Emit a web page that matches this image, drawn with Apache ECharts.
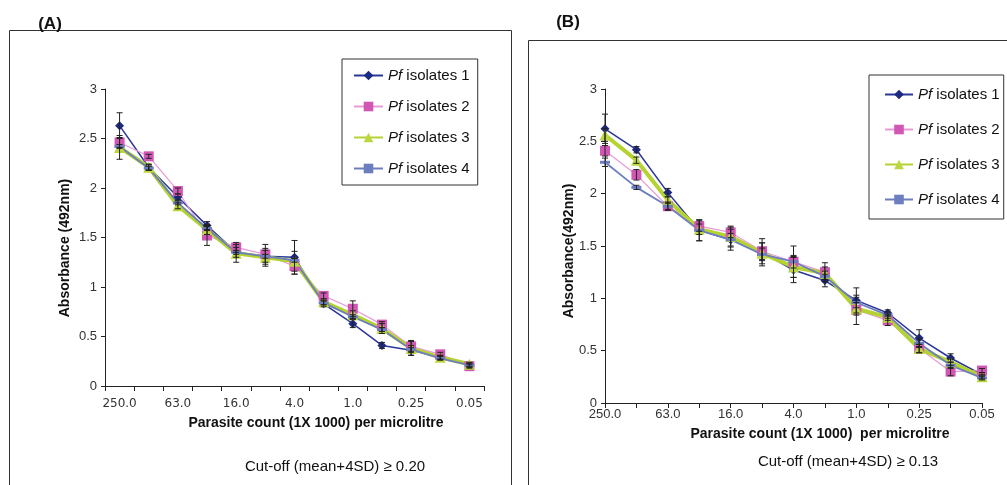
<!DOCTYPE html>
<html><head><meta charset="utf-8">
<script src="https://cdn.jsdelivr.net/npm/echarts@6/dist/echarts.min.js"></script>
<style>html,body{margin:0;padding:0;background:#fff}#c{width:1007px;height:485px}</style>
</head><body><div id="c"></div>
<script>
const categories = ["250.0","125.0","63.0","31.0","16.0","8.0","4.0","2.0","1.0","0.5","0.25","0.125","0.05"];
const seriesNames = ["Pf isolates 1","Pf isolates 2","Pf isolates 3","Pf isolates 4"];
const yTicks = [0,0.5,1,1.5,2,2.5,3];

// Panel A
const a1 = [2.63,2.21,1.91,1.62,1.35,1.31,1.30,0.83,0.63,0.41,0.36,0.29,0.21];
const a1err = [0.13,0.03,0.03,0.04,0.05,0.06,0.17,0.03,0.04,0.03,0.05,0.02,0.02];
const a2 = [2.46,2.32,1.97,1.52,1.40,1.33,1.21,0.91,0.78,0.62,0.40,0.32,0.20];
const a2err = [0.05,0.02,0.03,0.10,0.05,0.10,0.08,0.03,0.08,0.03,0.06,0.02,0.02];
const a3 = [2.41,2.21,1.82,1.58,1.34,1.30,1.26,0.85,0.72,0.58,0.38,0.29,0.22];
const a3err = [0.12,0.03,0.03,0.05,0.09,0.09,0.10,0.03,0.04,0.05,0.07,0.02,0.02];
const a4 = [2.42,2.20,1.85,1.59,1.35,1.31,1.27,0.84,0.70,0.57,0.37,0.28,0.21];
const a4err = [0.02,0.02,0.02,0.02,0.02,0.02,0.02,0.02,0.02,0.02,0.02,0.02,0.02];

// Panel B
const b1 = [2.62,2.42,2.01,1.65,1.56,1.44,1.27,1.17,0.98,0.86,0.62,0.43,0.27];
const b1err = [0.14,0.03,0.04,0.10,0.10,0.13,0.12,0.06,0.12,0.03,0.08,0.04,0.02];
const b2 = [2.41,2.18,1.88,1.69,1.63,1.45,1.35,1.25,0.89,0.79,0.52,0.30,0.31];
const b2err = [0.05,0.05,0.04,0.05,0.05,0.08,0.15,0.09,0.14,0.05,0.04,0.04,0.02];
const b3 = [2.56,2.32,1.94,1.66,1.59,1.43,1.30,1.24,0.90,0.82,0.52,0.39,0.25];
const b3err = [0.06,0.03,0.03,0.05,0.10,0.10,0.10,0.06,0.06,0.03,0.04,0.03,0.02];
const b4 = [2.30,2.06,1.88,1.65,1.56,1.42,1.35,1.21,0.96,0.84,0.57,0.36,0.24];
const b4err = [0.04,0.02,0.03,0.10,0.06,0.06,0.06,0.05,0.05,0.03,0.04,0.03,0.02];

const styles = [
  {line:'#2a3796', mark:'#1c2a86', width:1.5, symbol:'diamond', size:9},
  {line:'#e79bd6', mark:'#d257b5', width:1.2, symbol:'rect', size:10},
  {line:'#b4d230', mark:'#bcd640', width:4, symbol:'triangle', size:11},
  {line:'#6c7ec0', mark:'#6c7ec0', width:1.8, symbol:'rect', size:[10,3]}
];

function lineSeries(name, data, idx, st){
  return {type:'line', name:name, data:data, xAxisIndex:idx, yAxisIndex:idx,
    symbol:st.symbol, symbolSize:st.size, showSymbol:true,
    lineStyle:{color:st.line, width:st.width},
    itemStyle:{color:st.mark}, z:3, animation:false};
}
function errSeries(vals, errs, idx){
  return {type:'custom', xAxisIndex:idx, yAxisIndex:idx, z:4, animation:false, silent:true,
    data: vals.map((v,i)=>[i, v, errs[i]]),
    renderItem: function(params, api){
      const x = api.value(0), y = api.value(1), e = api.value(2);
      const t = api.coord([x, y+e]), b = api.coord([x, y-e]);
      const w = 3, st = {stroke:'#222', lineWidth:1};
      return {type:'group', children:[
        {type:'line', shape:{x1:t[0],y1:t[1],x2:b[0],y2:b[1]}, style:st},
        {type:'line', shape:{x1:t[0]-w,y1:t[1],x2:t[0]+w,y2:t[1]}, style:st},
        {type:'line', shape:{x1:b[0]-w,y1:b[1],x2:b[0]+w,y2:b[1]}, style:st}
      ]};
    }};
}

const A = [a1,a2,a3,a4], Aerr = [a1err,a2err,a3err,a4err];
const B = [b1,b2,b3,b4], Berr = [b1err,b2err,b3err,b4err];
const series = [];
A.forEach((d,i)=>series.push(errSeries(d, Aerr[i], 0)));
B.forEach((d,i)=>series.push(errSeries(d, Berr[i], 1)));
A.forEach((d,i)=>series.push(lineSeries(seriesNames[i], d, 0, styles[i])));
B.forEach((d,i)=>series.push(lineSeries(seriesNames[i], d, 1, styles[i])));

const axisLine = {show:true, lineStyle:{color:'#222', width:1}};
function yAxis(idx){
  return {type:'value', gridIndex:idx, min:yTicks[0], max:yTicks[yTicks.length-1], interval:0.5,
    axisLine:axisLine, axisTick:{show:true, length:4, lineStyle:{color:'#222'}},
    splitLine:{show:false},
    axisLabel:{color:'#333', fontFamily:'Liberation Sans', fontSize:13, margin:8}};
}

const legendText = {fontFamily:'Liberation Sans', fontSize:15, color:'#111',
  rich:{i:{fontStyle:'italic', fontFamily:'Liberation Sans', fontSize:15, color:'#111'}}};
const fmt = n => '{i|Pf} ' + n.replace('Pf ','');

const option = {
  backgroundColor:'#fff',
  animation:false,
  grid:[
    {left:105, top:89, width:379, height:297},
    {left:605, top:89, width:377, height:314}
  ],
  xAxis:[
    {type:'category', gridIndex:0, data:categories, boundaryGap:true,
     axisLine:axisLine, axisTick:{show:true, interval:0, length:5, lineStyle:{color:'#222'}},
     axisLabel:{interval:1, color:'#333', fontFamily:'DejaVu Sans', fontSize:12, margin:12}},
    {type:'category', gridIndex:1, data:categories, boundaryGap:false,
     axisLine:axisLine, axisTick:{show:true, interval:0, length:5, lineStyle:{color:'#222'}},
     axisLabel:{interval:1, color:'#333', fontFamily:'Liberation Sans', fontSize:13, margin:5}}
  ],
  yAxis:[yAxis(0), yAxis(1)],
  legend:[
    {data:seriesNames, orient:'vertical', left:342, top:59,
     itemWidth:29, itemHeight:12, itemGap:16, padding:[9,8,9,11],
     borderColor:'#333', borderWidth:1, textStyle:legendText, formatter:fmt, selectedMode:false},
    {data:seriesNames, orient:'vertical', left:869, top:75,
     itemWidth:28, itemHeight:12, itemGap:20, padding:[12,4,12,15],
     borderColor:'#333', borderWidth:1, textStyle:legendText, formatter:fmt, selectedMode:false}
  ],
  graphic:[
    {type:'rect', shape:{x:9.5, y:30.5, width:502, height:470}, style:{fill:null, stroke:'#333', lineWidth:1}, silent:true},
    {type:'rect', shape:{x:528.5, y:40.5, width:490, height:470}, style:{fill:null, stroke:'#333', lineWidth:1}, silent:true},
    {type:'text', x:50, y:24, style:{text:'(A)', font:'bold 17px "Liberation Sans"', fill:'#111', textAlign:'center', textVerticalAlign:'middle'}},
    {type:'text', x:568, y:22, style:{text:'(B)', font:'bold 17px "Liberation Sans"', fill:'#111', textAlign:'center', textVerticalAlign:'middle'}},
    {type:'text', x:65, y:248, rotation:Math.PI/2, style:{text:'Absorbance (492nm)', font:'bold 14px "Liberation Sans"', fill:'#111', textAlign:'center', textVerticalAlign:'middle'}},
    {type:'text', x:569, y:251, rotation:Math.PI/2, style:{text:'Absorbance(492nm)', font:'bold 14px "Liberation Sans"', fill:'#111', textAlign:'center', textVerticalAlign:'middle'}},
    {type:'text', x:316, y:423, style:{text:'Parasite count (1X 1000) per microlitre', font:'bold 14px "Liberation Sans"', fill:'#111', textAlign:'center', textVerticalAlign:'middle'}},
    {type:'text', x:820, y:434, style:{text:'Parasite count (1X 1000)  per microlitre', font:'bold 14px "Liberation Sans"', fill:'#111', textAlign:'center', textVerticalAlign:'middle'}},
    {type:'text', x:335, y:467, style:{text:'Cut-off (mean+4SD) \u2265 0.20', font:'15px "Liberation Sans"', fill:'#111', textAlign:'center', textVerticalAlign:'middle'}},
    {type:'text', x:848, y:462, style:{text:'Cut-off (mean+4SD) \u2265 0.13', font:'15px "Liberation Sans"', fill:'#111', textAlign:'center', textVerticalAlign:'middle'}}
  ],
  series:series
};
const chart = echarts.init(document.getElementById('c'), null, {renderer:'canvas'});
chart.setOption(option);
</script></body></html>
